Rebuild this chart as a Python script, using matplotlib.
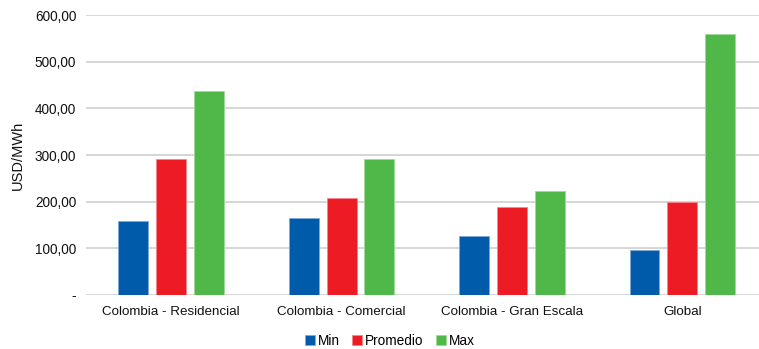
import matplotlib
matplotlib.use('Agg')
import matplotlib.pyplot as plt
import numpy as np

plt.rcParams['font.family'] = ['Liberation Sans', 'DejaVu Sans']

categorias = ['Colombia - Residencial', 'Colombia - Comercial', 'Colombia - Gran Escala', 'Global']
v_min = [159, 165, 127, 96]
v_prom = [292, 207, 189, 199]
v_max = [438, 292, 223, 560]
series = ['Min', 'Promedio', 'Max']
colores = ['#005BAA', '#ED1C24', '#50B848']
bordes = ['#7FA8D4', '#F4868B', '#A3D89C']

fig = plt.figure(figsize=(7.59, 3.49), dpi=100)
ax = fig.add_axes([86/759, 54.3/349, 1 - 86/759, 279.4/349])

x = np.arange(len(categorias))
w = 0.176
step = 0.222
for i, (vals, name) in enumerate(zip([v_min, v_prom, v_max], series)):
    ax.bar(x + (i - 1) * step, vals, w, color=colores[i], edgecolor=bordes[i],
           linewidth=0.6, label=name, zorder=3)

ax.set_xlim(-0.5, 3.45)
ax.set_ylim(0, 600)
yt = [0, 100, 200, 300, 400, 500, 600]
ax.set_yticks(yt)
ax.set_yticklabels(['-'] + ['%d,00' % v for v in yt[1:]], fontsize=9.8, color='#111111')
ax.set_xticks(x)
ax.set_xticklabels(categorias, fontsize=9.6, color='#111111')
ax.tick_params(axis='both', length=0)
ax.tick_params(axis='y', pad=7)
ax.tick_params(axis='x', pad=8)
ax.yaxis.grid(True, color='#D0D0D0', linewidth=1.2, zorder=0)
ax.set_axisbelow(True)
for s in ax.spines.values():
    s.set_visible(False)
ax.set_ylabel('USD/MWh', fontsize=10.5, color='#111111', labelpad=7)

fig.legend(loc='center', bbox_to_anchor=(390/759, 8/349), ncol=3, frameon=False,
           fontsize=9.8, handlelength=0.75, handleheight=0.75, handletextpad=0.2,
           columnspacing=0.9, borderaxespad=0)

fig.savefig('out.png', dpi=100)
